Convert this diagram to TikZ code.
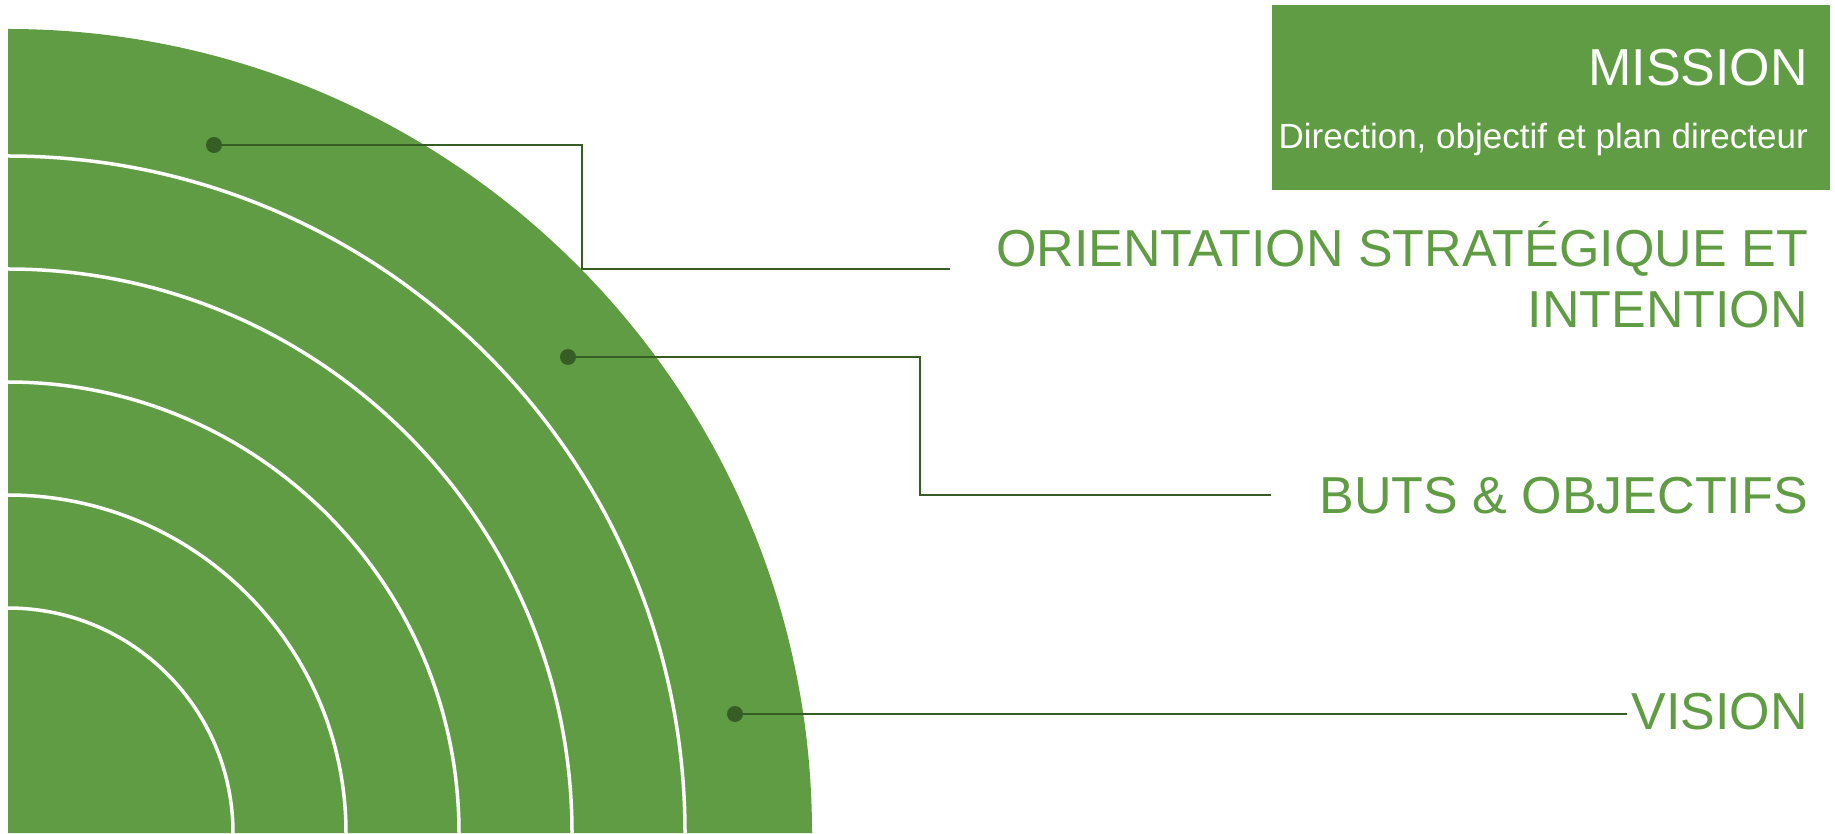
\documentclass[tikz,border=0pt]{standalone}
\usepackage{fontspec}
\setmainfont{Liberation Sans}
\usepackage{xcolor}
\usepackage{tikz}
\definecolor{leaf}{HTML}{609C44}
\definecolor{bark}{HTML}{365E24}

\begin{document}
\begin{tikzpicture}[x=1pt,y=1pt]
      \tikzset{ring/.style={draw=white,line width=3.5pt}}
      \tikzset{dot/.style={circle,fill=bark,inner sep=0pt,minimum size=16pt}}
      \tikzset{conn/.style={draw=bark,line width=2.5pt}}
      \tikzset{lbl/.style={anchor=base east,inner sep=0pt,text=leaf,align=right,font=\fontsize{52}{61}\selectfont}}
      \tikzset{boxtxt/.style={anchor=base east,inner sep=0pt,text=white}}
      \def\outerr{804}

      \useasboundingbox (0,0) rectangle (1835,833);

      % quarter disc and its rings
      \fill[leaf] (8,0) -- (8+\outerr,0) arc[start angle=0,end angle=90,radius=\outerr] -- cycle;
      \foreach \r in {225,338,451,564,677}
        \draw[ring] (8+\r,0) arc[start angle=0,end angle=90,radius=\r];

      % mission box
      \node[fill=leaf,minimum width=558pt,minimum height=185pt,inner sep=0pt] (box) at (1551,735.5) {};
      \node[boxtxt,font=\fontsize{52}{60}\selectfont] (mission) at (1808,747.5) {MISSION};
      \node[boxtxt,font=\fontsize{35}{42}\selectfont] (missiondesc) at (1808,684.4) {Direction, objectif et plan directeur};

      % labels
      \node[lbl] (orient) at (1808,505) {ORIENTATION STRATÉGIQUE ET\\INTENTION};
      \node[lbl] (buts) at (1808,319) {BUTS \& OBJECTIFS};
      \node[lbl] (vision) at (1808,104) {VISION};

      % dots and leader lines
      \node[dot] (d1) at (214,688) {};
      \node[dot] (d2) at (568,476) {};
      \node[dot] (d3) at (735,119) {};
      \coordinate (k1) at (582,564);
      \coordinate (e1) at (950,564);
      \coordinate (k2) at (920,338);
      \coordinate (e2) at (1271,338);
      \coordinate (e3) at (1627,119);

      \draw[conn] (d1.center) -| (k1) -- (e1);
      \draw[conn] (d2.center) -| (k2) -- (e2);
      \draw[conn] (d3.center) -- (e3);
    \end{tikzpicture}
\end{document}
